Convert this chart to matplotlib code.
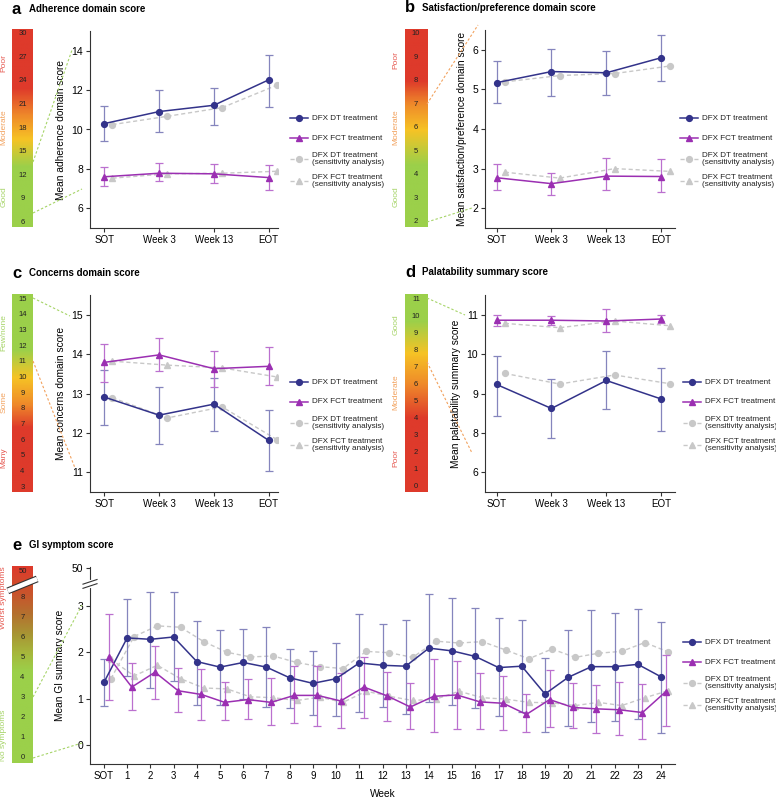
import matplotlib
matplotlib.use('Agg')
import matplotlib.pyplot as plt
import numpy as np
from matplotlib.colors import LinearSegmentedColormap
from matplotlib.lines import Line2D

plt.rcParams['font.family'] = ['Liberation Sans', 'DejaVu Sans']

# ---------------- data ----------------
visits = ['SOT', 'Week 3', 'Week 13', 'EOT']

a_dt = [10.30, 10.91, 11.23, 12.52]
a_dt_lo = [9.43, 9.87, 10.25, 11.14]
a_dt_hi = [11.21, 12.02, 12.10, 13.78]
a_fct = [7.60, 7.78, 7.75, 7.56]
a_fct_lo = [7.11, 7.38, 7.26, 6.92]
a_fct_hi = [8.12, 8.32, 8.27, 8.18]
a_sdt = [10.25, 10.67, 11.11, 12.25]
a_sfct = [7.53, 7.75, 7.78, 7.88]

b_dt = [5.17, 5.45, 5.42, 5.80]
b_dt_lo = [4.65, 4.84, 4.85, 5.21]
b_dt_hi = [5.72, 6.02, 5.97, 6.38]
b_fct = [2.77, 2.62, 2.81, 2.80]
b_fct_lo = [2.45, 2.33, 2.45, 2.40]
b_fct_hi = [3.12, 2.90, 3.26, 3.23]
b_sdt = [5.19, 5.35, 5.40, 5.59]
b_sfct = [2.91, 2.76, 3.00, 2.93]

c_dt = [12.91, 12.45, 12.73, 11.81]
c_dt_lo = [12.20, 11.72, 12.06, 11.03]
c_dt_hi = [13.59, 13.17, 13.39, 12.59]
c_fct = [13.79, 13.98, 13.63, 13.69]
c_fct_lo = [13.30, 13.57, 13.16, 13.21]
c_fct_hi = [14.25, 14.40, 14.08, 14.18]
c_sdt = [12.89, 12.38, 12.66, 11.83]
c_sfct = [13.82, 13.72, 13.65, 13.42]

d_dt = [9.23, 8.62, 9.33, 8.86]
d_dt_lo = [8.42, 7.87, 8.60, 8.06]
d_dt_hi = [9.95, 9.36, 10.09, 9.64]
d_fct = [10.86, 10.86, 10.84, 10.89]
d_fct_lo = [10.71, 10.74, 10.56, 10.80]
d_fct_hi = [11.00, 10.97, 11.14, 10.98]
d_sdt = [9.51, 9.24, 9.47, 9.25]
d_sfct = [10.78, 10.67, 10.84, 10.72]
d_yticks = [7, 8, 9, 10, 11]
d_yticklabels = ['6', '8', '9', '10', '11']

e_weeks = ['SOT', '1', '2', '3', '4', '5', '6', '7', '8', '9', '10', '11', '12',
           '13', '14', '15', '16', '17', '18', '19', '20', '21', '22', '23', '24']
e_dt = [1.35, 2.31, 2.28, 2.33, 1.80, 1.68, 1.78, 1.68, 1.45, 1.33, 1.43, 1.77, 1.72,
        1.70, 2.09, 2.03, 1.91, 1.67, 1.70, 1.10, 1.46, 1.69, 1.69, 1.74, 1.47]
e_dt_hi = [1.85, 3.14, 3.30, 3.30, 2.68, 2.49, 2.50, 2.54, 2.07, 2.03, 2.19, 2.83, 2.62,
           2.70, 3.25, 3.17, 2.96, 2.73, 2.69, 1.88, 2.49, 2.91, 2.85, 2.93, 2.66]
e_dt_lo = [0.85, 1.48, 1.22, 1.37, 0.86, 0.87, 1.00, 0.82, 0.79, 0.65, 0.63, 0.72, 0.83,
           0.67, 0.93, 0.86, 0.80, 0.62, 0.71, 0.29, 0.40, 0.50, 0.51, 0.56, 0.25]
e_fct = [1.90, 1.25, 1.57, 1.17, 1.09, 0.92, 0.98, 0.92, 1.07, 1.07, 0.95, 1.25, 1.06,
         0.82, 1.05, 1.08, 0.93, 0.90, 0.66, 0.98, 0.81, 0.78, 0.76, 0.70, 1.15]
e_fct_hi = [2.83, 1.77, 2.14, 1.66, 1.63, 1.36, 1.43, 1.44, 1.70, 1.71, 1.56, 1.90, 1.58,
            1.33, 1.86, 1.82, 1.55, 1.49, 1.10, 1.62, 1.33, 1.30, 1.36, 1.32, 1.95]
e_fct_lo = [0.98, 0.76, 0.99, 0.72, 0.54, 0.54, 0.56, 0.43, 0.47, 0.42, 0.37, 0.59, 0.51,
            0.34, 0.27, 0.35, 0.35, 0.32, 0.28, 0.39, 0.36, 0.25, 0.21, 0.12, 0.41]
e_sdt = [1.43, 2.34, 2.57, 2.54, 2.23, 2.00, 1.90, 1.92, 1.78, 1.69, 1.65, 2.02, 1.99,
         1.89, 2.24, 2.20, 2.23, 2.05, 1.86, 2.07, 1.89, 1.98, 2.02, 2.21, 2.01]
e_sfct = [1.85, 1.49, 1.72, 1.43, 1.23, 1.21, 1.04, 1.02, 0.96, 1.03, 0.92, 1.16, 1.05,
          0.96, 0.99, 1.16, 1.02, 0.99, 0.92, 0.91, 0.85, 0.92, 0.85, 1.02, 1.17]
e_yticks = [0, 1, 2, 3, 3.81]
e_yticklabels = ['0', '1', '2', '3', '50']

series_labels = ['DFX DT treatment', 'DFX FCT treatment',
                 'DFX DT treatment\n(sensitivity analysis)',
                 'DFX FCT treatment\n(sensitivity analysis)']

# ---------------- style ----------------
BLUE = '#33338a'
BLUE_ERR = '#8585bd'
PURPLE = '#9b2fb2'
PURPLE_ERR = '#bb70cf'
GRAY = '#c8c8c8'
GREEN = '#9bd04a'
YELLOW = '#f6c325'
ORANGE = '#ef8a2a'
RED = '#de3a2b'
T_RED = '#e65a52'
T_ORANGE = '#f2a25e'
T_GREEN = '#a6d468'
SPINE = '#333333'

W, H = 776, 800
fig = plt.figure(figsize=(W / 100, H / 100), dpi=100)


def rect(l, t, r, b):
    return [l / W, 1 - b / H, (r - l) / W, (b - t) / H]


def fline(x1, y1, x2, y2, color):
    fig.add_artist(Line2D([x1 / W, x2 / W], [1 - y1 / H, 1 - y2 / H],
                          transform=fig.transFigure, color=color, lw=0.8,
                          ls=(0, (2.2, 1.8))))


def title(x, y, letter, text):
    fig.text(x / W, 1 - y / H, letter, fontsize=12, fontweight='bold',
             ha='left', va='center')
    fig.text((x + 17) / W, 1 - y / H, text, fontsize=7, fontweight='bold',
             ha='left', va='center')


def catlabel(x, y, text, color):
    fig.text(x / W, 1 - y / H, text, rotation=90, color=color, fontsize=6,
             ha='center', va='center')


def colorbar(box, vmin, vmax, stops, vals, labels):
    ax = fig.add_axes(rect(*box))
    cmap = LinearSegmentedColormap.from_list(
        'c', [((v - vmin) / (vmax - vmin), c) for v, c in stops])
    grad = np.linspace(vmin, vmax, 300).reshape(-1, 1)
    ax.imshow(grad, aspect='auto', cmap=cmap, origin='lower',
              extent=[0, 1, vmin, vmax], vmin=vmin, vmax=vmax)
    for v, l in zip(vals, labels):
        ax.text(0.5, v, l, ha='center', va='center', fontsize=5.5, color='#222222')
    ax.set_xlim(0, 1)
    ax.set_ylim(vmin, vmax)
    ax.axis('off')
    return ax


STYLES = [dict(color=BLUE, lw=1.1, marker='o', ms=4.2, mec=BLUE),
          dict(color=PURPLE, lw=1.1, marker='^', ms=4.8, mec=PURPLE),
          dict(color=GRAY, lw=1.0, ls=(0, (3, 2)), marker='o', ms=4.2, mec=GRAY),
          dict(color=GRAY, lw=1.0, ls=(0, (3, 2)), marker='^', ms=4.6, mec=GRAY)]
LEG_OFFSETS = [0, 20, 41, 63]


def legend(x0, y0):
    for st, off, lab in zip(STYLES, LEG_OFFSETS, series_labels):
        y = 1 - (y0 + off) / H
        st2 = dict(st)
        st2.pop('marker'); st2.pop('ms'); st2.pop('mec')
        fig.add_artist(Line2D([x0 / W, (x0 + 18) / W], [y, y], transform=fig.transFigure,
                              **st2))
        fig.add_artist(Line2D([(x0 + 9) / W], [y], transform=fig.transFigure,
                              marker=st['marker'], ms=st['ms'], color=st['color'],
                              mec=st['mec'], ls='none'))
        fig.text((x0 + 22) / W, y, lab, fontsize=5.9, ha='left', va='center',
                 linespacing=1.0, color='#222222')


def panel(box, xlabels, dt, dt_lo, dt_hi, fct, fct_lo, fct_hi, sdt, sfct,
          ylim, yticks, yticklabels, ylabel, xlim, fct_off, s_off, leg_xy,
          ylabel_pad=4):
    ax = fig.add_axes(rect(*box))
    x = np.arange(len(xlabels))
    dt = np.array(dt); fct = np.array(fct)
    ax.plot(x + s_off, sdt, zorder=1, **STYLES[2])
    ax.plot(x + s_off, sfct, zorder=1, **STYLES[3])
    ax.errorbar(x, dt, yerr=[dt - np.array(dt_lo), np.array(dt_hi) - dt], fmt='none',
                ecolor=BLUE_ERR, elinewidth=0.9, capsize=2.6, capthick=0.9, zorder=2)
    ax.errorbar(x + fct_off, fct, yerr=[fct - np.array(fct_lo), np.array(fct_hi) - fct],
                fmt='none', ecolor=PURPLE_ERR, elinewidth=0.9, capsize=2.6,
                capthick=0.9, zorder=2)
    ax.plot(x, dt, zorder=3, **STYLES[0])
    ax.plot(x + fct_off, fct, zorder=3, **STYLES[1])
    ax.set_xlim(*xlim)
    ax.set_ylim(*ylim)
    ax.set_xticks(x)
    ax.set_xticklabels(xlabels, fontsize=7)
    ax.set_yticks(yticks)
    ax.set_yticklabels(yticklabels, fontsize=7.5)
    ax.set_ylabel(ylabel, fontsize=7.3, labelpad=ylabel_pad)
    for s in ['top', 'right']:
        ax.spines[s].set_visible(False)
    for s in ['left', 'bottom']:
        ax.spines[s].set_color(SPINE)
        ax.spines[s].set_linewidth(0.8)
    ax.tick_params(length=3, width=0.8, color=SPINE, pad=2)
    legend(*leg_xy)
    return ax


# ---------------- panel a ----------------
title(12, 9, 'a', 'Adherence domain score')
colorbar((12, 29, 33, 227), 5.4, 30.6,
         [(5.4, GREEN), (13.0, GREEN), (16.5, YELLOW), (19.5, ORANGE), (23.0, RED), (30.6, RED)],
         [30, 27, 24, 21, 18, 15, 12, 9, 6], ['30', '27', '24', '21', '18', '15', '12', '9', '6'])
catlabel(4, 63, 'Poor', T_RED)
catlabel(4, 127, 'Moderate', T_ORANGE)
catlabel(4, 197, 'Good', T_GREEN)
fline(33, 162, 72, 50, T_GREEN)
fline(33, 213, 82, 189, T_GREEN)
panel((90, 31, 278, 228), visits, a_dt, a_dt_lo, a_dt_hi, a_fct, a_fct_lo, a_fct_hi,
      a_sdt, a_sfct, (5, 15), [6, 8, 10, 12, 14], ['6', '8', '10', '12', '14'],
      'Mean adherence domain score', (-0.26, 3.17), 0.0, 0.15, (290, 118))

# ---------------- panel b ----------------
title(405, 8, 'b', 'Satisfaction/preference domain score')
colorbar((405, 29, 427, 227), 1.77, 10.2,
         [(1.77, GREEN), (4.4, GREEN), (5.9, YELLOW), (7.0, ORANGE), (8.0, RED), (10.2, RED)],
         [10, 9, 8, 7, 6, 5, 4, 3, 2], ['10', '9', '8', '7', '6', '5', '4', '3', '2'])
catlabel(396, 60, 'Poor', T_RED)
catlabel(396, 127, 'Moderate', T_ORANGE)
catlabel(396, 197, 'Good', T_GREEN)
fline(427, 104, 478, 25, T_ORANGE)
fline(427, 222, 472, 208, T_GREEN)
panel((485, 30, 675, 228), visits, b_dt, b_dt_lo, b_dt_hi, b_fct, b_fct_lo, b_fct_hi,
      b_sdt, b_sfct, (1.5, 6.5), [2, 3, 4, 5, 6], ['2', '3', '4', '5', '6'],
      'Mean satisfaction/preference domain score', (-0.21, 3.25), 0.0, 0.15, (680, 118))

# ---------------- panel c ----------------
title(12, 273, 'c', 'Concerns domain score')
colorbar((12, 294, 33, 492), 2.7, 15.34,
         [(2.7, RED), (6.8, RED), (8.3, ORANGE), (10.0, YELLOW), (11.8, GREEN), (15.34, GREEN)],
         [15, 14, 13, 12, 11, 10, 9, 8, 7, 6, 5, 4, 3],
         ['15', '14', '13', '12', '11', '10', '9', '8', '7', '6', '5', '4', '3'])
catlabel(4, 333, 'Few/none', T_GREEN)
catlabel(4, 402, 'Some', T_ORANGE)
catlabel(4, 458, 'Many', T_RED)
fline(33, 298, 70, 316, T_GREEN)
fline(33, 361, 75, 468, T_ORANGE)
panel((90, 295, 278, 492), visits, c_dt, c_dt_lo, c_dt_hi, c_fct, c_fct_lo, c_fct_hi,
      c_sdt, c_sfct, (10.5, 15.5), [11, 12, 13, 14, 15], ['11', '12', '13', '14', '15'],
      'Mean concerns domain score', (-0.26, 3.17), 0.0, 0.15, (290, 382))

# ---------------- panel d ----------------
title(405, 272, 'd', 'Palatability summary score')
colorbar((405, 294, 427, 492), -0.3, 11.3,
         [(-0.3, RED), (4.0, RED), (6.0, ORANGE), (7.8, YELLOW), (9.7, GREEN), (11.3, GREEN)],
         [11, 10, 9, 8, 7, 6, 5, 4, 3, 2, 1, 0],
         ['11', '10', '9', '8', '7', '6', '5', '4', '3', '2', '1', '0'])
catlabel(396, 325, 'Good', T_GREEN)
catlabel(396, 392, 'Moderate', T_ORANGE)
catlabel(396, 458, 'Poor', T_RED)
fline(427, 298, 465, 315, T_GREEN)
fline(427, 362, 472, 453, T_ORANGE)
panel((485, 295, 675, 492), visits, d_dt, d_dt_lo, d_dt_hi, d_fct, d_fct_lo, d_fct_hi,
      d_sdt, d_sfct, (6.5, 11.5), d_yticks, d_yticklabels,
      'Mean palatability summary score', (-0.21, 3.25), 0.0, 0.15, (683, 382))

# ---------------- panel e ----------------
title(12, 545, 'e', 'GI symptom score')
cbe = colorbar((12, 566, 33, 763), -0.3, 9.6,
               [(-0.3, GREEN), (4.3, GREEN), (5.2, '#a6b83c'), (6.2, '#a89534'),
                (7.2, '#b4712f'), (8.2, '#c8552c'), (9.6, RED)],
               [9.3, 8, 7, 6, 5, 4, 3, 2, 1, 0],
               ['50', '8', '7', '6', '5', '4', '3', '2', '1', '0'])
# break on colour bar
for lw, col in [(5.0, '#333333'), (3.4, 'white')]:
    cbe.plot([-0.2, 1.2], [8.35, 8.95], color=col, lw=lw, clip_on=False,
             solid_capstyle='butt', zorder=5)
catlabel(4, 598, 'Worst symptoms', T_RED)
catlabel(4, 735, 'No symptoms', T_GREEN)
fline(33, 697, 82, 605, T_GREEN)
fline(33, 758, 82, 743, T_GREEN)
axe = panel((90, 567, 675, 764), e_weeks, e_dt, e_dt_lo, e_dt_hi, e_fct, e_fct_lo,
            e_fct_hi, e_sdt, e_sfct, (-0.41, 3.84), e_yticks, e_yticklabels,
            'Mean GI summary score', (-0.6, 24.6), 0.2, 0.3, (683, 642),
            ylabel_pad=5)
axe.set_xlabel('Week', fontsize=7.3, labelpad=6)
# axis break marks
tr = axe.get_yaxis_transform()
axe.plot([0, 0], [3.43, 3.52], transform=tr, color='white', lw=3, clip_on=False, zorder=6)
for yb in (3.43, 3.52):
    axe.plot([-0.012, 0.012], [yb - 0.05, yb + 0.05], transform=tr, color=SPINE,
             lw=0.8, clip_on=False, zorder=7)

fig.savefig('out.png', dpi=100)
